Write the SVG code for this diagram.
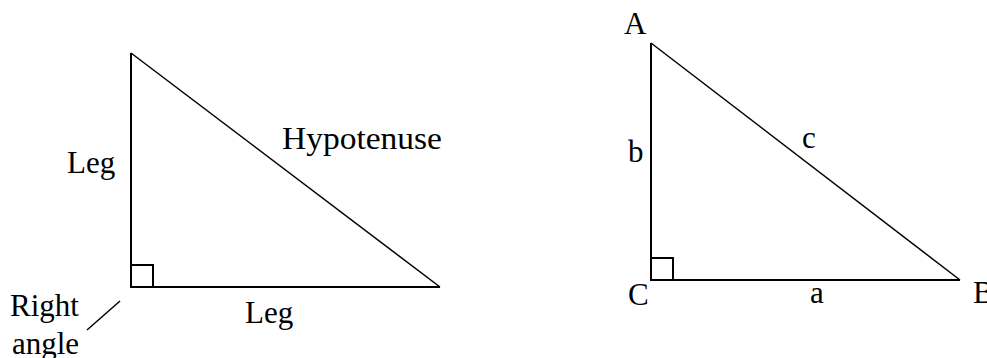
<svg xmlns="http://www.w3.org/2000/svg" width="987" height="358" viewBox="0 0 987 358">
<style>
.ln{stroke:#000;stroke-width:2;fill:none}
.hy{stroke:#000;stroke-width:1.5;fill:none}
.t{font-family:"Liberation Serif","Times New Roman",serif;font-size:31px;fill:#000}
</style>
<rect width="987" height="358" fill="#fff"/>
<g id="triangle-left">
<line class="ln" x1="131" y1="53" x2="131" y2="287"/>
<line class="ln" x1="130" y1="287" x2="440" y2="287"/>
<line class="hy" x1="131" y1="53" x2="440" y2="287"/>
<rect class="ln" x="131" y="265" width="22" height="22"/>
</g>
<g id="labels-left">
<text class="t" x="67" y="173">Leg</text>
<text class="t" x="282" y="149" textLength="160" lengthAdjust="spacingAndGlyphs">Hypotenuse</text>
<text class="t" x="245" y="323">Leg</text>
<text class="t" x="10" y="316">Right</text>
<text class="t" x="12" y="354">angle</text>
</g>
<g id="connectors">
<line class="hy" x1="120" y1="301" x2="87" y2="330"/>
</g>
<g id="triangle-right">
<line class="ln" x1="651" y1="43" x2="651" y2="280"/>
<line class="ln" x1="650" y1="280" x2="960" y2="280"/>
<line class="hy" x1="651" y1="43" x2="960" y2="280"/>
<rect class="ln" x="651" y="258" width="22" height="22"/>
</g>
<g id="labels-right">
<text class="t" x="624" y="34">A</text>
<text class="t" x="628" y="162">b</text>
<text class="t" x="802" y="148">c</text>
<text class="t" x="628" y="305">C</text>
<text class="t" x="810" y="303">a</text>
<text class="t" x="973" y="303">B</text>
</g>
</svg>
